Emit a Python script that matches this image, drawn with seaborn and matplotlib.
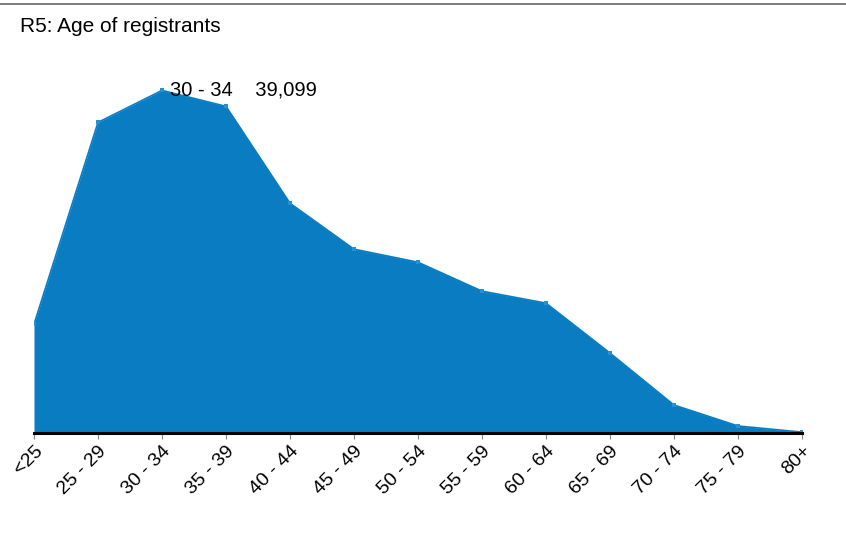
import numpy as np
import pandas as pd
import matplotlib
matplotlib.use("Agg")
import matplotlib.pyplot as plt
import seaborn as sns

# age bands and number of registrants
age_bands = ["<25", "25 - 29", "30 - 34", "35 - 39", "40 - 44", "45 - 49", "50 - 54",
             "55 - 59", "60 - 64", "65 - 69", "70 - 74", "75 - 79", "80+"]
registrants = [12400, 35450, 39099, 37280, 26220, 20980, 19490,
               16190, 14820, 9120, 3190, 800, 100]

df = pd.DataFrame({"band": age_bands, "count": registrants, "pos": np.arange(len(age_bands))})

sns.set_style("white")
plt.rcParams["font.family"] = ["Liberation Sans", "DejaVu Sans"]
plt.rcParams["text.color"] = "black"
plt.rcParams["xtick.color"] = "black"

blue = "#0a7dc2"
fig = plt.figure(figsize=(8.46, 5.52), dpi=100)
ax = fig.add_axes([34 / 846, 119 / 552, 768 / 846, 368 / 552])

ax.fill_between(df["pos"], df["count"], 0, color=blue, lw=0)
sns.lineplot(data=df, x="pos", y="count", ax=ax, color=blue, lw=1.2,
             marker="s", markersize=3, markeredgewidth=0, markerfacecolor="#2a8fd0")

ax.set_xlim(0, len(age_bands) - 1)
ax.set_ylim(0, 42000)
ax.set_xticks(df["pos"])
ax.set_xticklabels(age_bands, rotation=45, ha="right", rotation_mode="anchor", fontsize=14)
ax.set_yticks([])
ax.set_xlabel("")
ax.set_ylabel("")
ax.tick_params(axis="x", length=4, width=0.8, color="#888888", labelcolor="black", pad=3, bottom=True)
for s in ["top", "right", "left"]:
    ax.spines[s].set_visible(False)
ax.spines["bottom"].set_color("black")
ax.spines["bottom"].set_linewidth(2.2)

peak = int(np.argmax(registrants))
ax.text(peak + 0.12, registrants[peak], f"{age_bands[peak]}    {registrants[peak]:,}",
        fontsize=14.5, va="center", ha="left", color="black")

fig.text(20 / 846, 1 - 27 / 552, "R5: Age of registrants", fontsize=15, va="center", ha="left",
         color="black")
fig.add_artist(plt.Line2D([0, 1], [1 - 4 / 552, 1 - 4 / 552], color="#666666", lw=1.2))

fig.savefig("out.png", dpi=100)
